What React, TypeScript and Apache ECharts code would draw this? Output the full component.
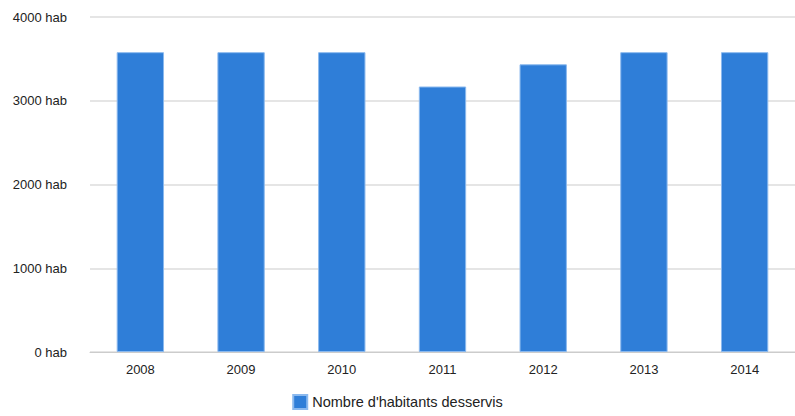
import React, { useEffect, useRef } from "react";
import * as echarts from "echarts";

const categories = ["2008", "2009", "2010", "2011", "2012", "2013", "2014"];
const habitants = [3580, 3580, 3580, 3170, 3435, 3580, 3580];
const seriesName = "Nombre d'habitants desservis";

export default function App() {
  const ref = useRef<HTMLDivElement>(null);
  useEffect(() => {
    document.body.style.margin = "0";
    const chart = echarts.init(ref.current!, undefined, { renderer: "svg" });
    chart.setOption({
      animation: false,
      textStyle: { fontFamily: "Liberation Sans, Arial, sans-serif" },
      grid: { left: 90, right: -4, top: 17, bottom: 64 },
      legend: {
        bottom: 1,
        left: "center",
        itemWidth: 14,
        itemHeight: 14,
        itemGap: 10,
        icon: "rect",
        textStyle: { fontSize: 14.5, color: "#222", fontFamily: "Liberation Sans, Arial, sans-serif" },
        data: [seriesName],
      },
      xAxis: {
        type: "category",
        data: categories,
        axisLine: { lineStyle: { color: "#ccc", width: 1 } },
        axisTick: { alignWithLabel: true, length: 5, lineStyle: { color: "#ccc" } },
        axisLabel: { color: "#222", fontSize: 13, margin: 11 },
      },
      yAxis: {
        type: "value",
        min: 0,
        max: 4000,
        interval: 1000,
        axisLine: { show: false },
        axisTick: { show: false },
        splitLine: { lineStyle: { color: "#ddd", width: 1.5 } },
        axisLabel: { color: "#222", fontSize: 13, margin: 23, formatter: (v: number) => `${v} hab` },
      },
      series: [
        {
          name: seriesName,
          type: "bar",
          data: habitants,
          barWidth: "47%",
          itemStyle: { color: "#2f7ed8", borderColor: "#8bb9ee", borderWidth: 1 },
        },
      ],
    });
    return () => chart.dispose();
  }, []);
  return <div ref={ref} style={{ position: "absolute", left: 0, top: 0, width: 795, height: 416 }} />;
}
